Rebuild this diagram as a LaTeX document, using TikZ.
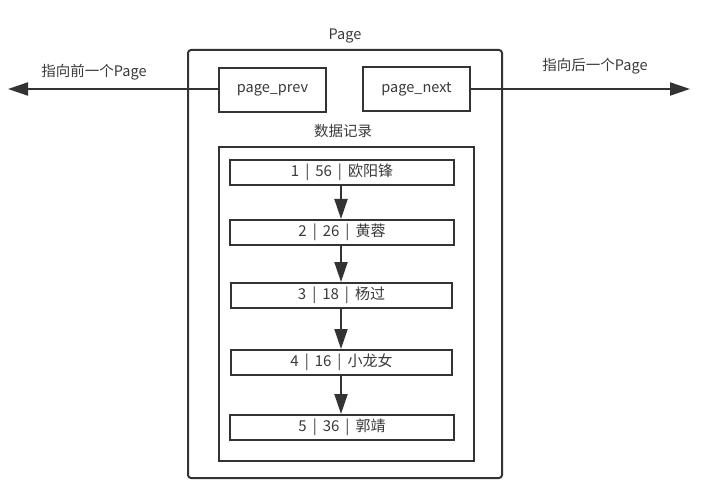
\documentclass[tikz,border=0pt]{standalone}
\usepackage{fontspec}
\setmainfont{Noto Sans CJK SC}
\usetikzlibrary{arrows.meta}
\definecolor{ink}{HTML}{333333}
\definecolor{txt}{HTML}{3a3a3a}
\newcommand{\sep}{\hspace{6pt}|\hspace{6pt}}
\tikzset{
  box/.style={draw=ink, line width=2pt, fill=white, inner sep=0pt, anchor=north west},
  rec/.style={draw=ink, line width=2pt, fill=white, inner sep=0pt, anchor=north west, minimum height=25pt, text=txt, font=\fontsize{15}{16}\selectfont},
  lbl/.style={text=txt, font=\fontsize{14.5}{16}\selectfont, inner sep=0pt},
  link/.style={draw=ink, line width=2pt, -{Triangle[length=20pt,width=13pt]}},
}
\begin{document}
\begin{tikzpicture}[x=1pt,y=-1pt]
\useasboundingbox (0,0) rectangle (706,494);
\node[box, rounded corners=3pt, minimum width=314pt, minimum height=428pt] (page) at (187,49) {};
\node[lbl] (pagelbl) at (345,36) {Page};
\node[box, minimum width=107pt, minimum height=44pt, text=txt, font=\fontsize{14.5}{16}\selectfont] (prev) at (218,67) {page\_prev};
\node[box, minimum width=107pt, minimum height=44pt, text=txt, font=\fontsize{14.5}{16}\selectfont] (next) at (362,66) {page\_next};
\coordinate (lend) at (8,89);
\coordinate (rend) at (690,89);
\draw[link] (prev.west |- 0,89) -- (lend);
\draw[link] (next.east |- 0,89) -- (rend);
\node[lbl] (llbl) at (94,72) {指向前一个Page};
\node[lbl] (rlbl) at (595,66) {指向后一个Page};
\node[lbl] (datalbl) at (343,131) {数据记录};
\node[box, minimum width=255pt, minimum height=314pt] (data) at (218,146) {};
\node[rec, minimum width=224pt] (r1) at (229,159) {1\sep 56\sep 欧阳锋};
\node[rec, minimum width=224pt] (r2) at (229,219) {2\sep 26\sep 黄蓉};
\node[rec, minimum width=221pt] (r3) at (230,282) {3\sep 18\sep 杨过};
\node[rec, minimum width=221pt] (r4) at (230,349) {4\sep 16\sep 小龙女};
\node[rec, minimum width=224pt] (r5) at (229,414) {5\sep 36\sep 郭靖};
\draw[link] (r1.south -| 341,0) -- (r2.north -| 341,0);
\draw[link] (r2.south -| 341,0) -- (r3.north -| 341,0);
\draw[link] (r3.south -| 341,0) -- (r4.north -| 341,0);
\draw[link] (r4.south -| 341,0) -- (r5.north -| 341,0);
\end{tikzpicture}
\end{document}
